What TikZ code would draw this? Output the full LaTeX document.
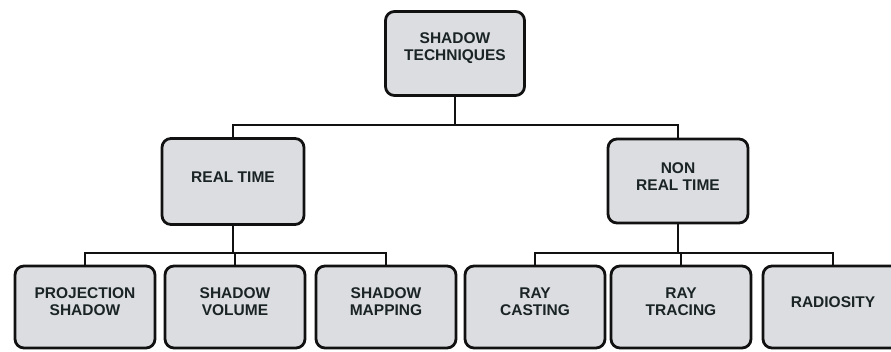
\documentclass[tikz,border=0pt]{standalone}
\usepackage{fontspec}
\setmainfont{Liberation Sans}
\definecolor{boxfill}{HTML}{DCDDE0}
\definecolor{txt}{HTML}{1A2424}
\definecolor{ink}{HTML}{111111}
\begin{document}
\begin{tikzpicture}[x=1pt,y=-1pt,
  box/.style={draw=ink, line width=2.8pt, rounded corners=9pt, fill=boxfill,
    minimum width=140pt, minimum height=82pt, inner sep=0pt},
  lbl/.style={font=\bfseries\fontsize{15.5}{17}\selectfont, text=txt, align=center, inner sep=0pt},
  conn/.style={draw=ink, line width=2.6pt}]
\useasboundingbox (0,0) rectangle (891,351);
\clip (0,0) rectangle (891,351);
% top level
\node[box, minimum height=84pt, minimum width=139pt,
  label={[lbl,yshift=5pt]center:SHADOW\\TECHNIQUES}] (top) at (455,53.5) {};
% second level
\node[box, minimum height=86pt, minimum width=142pt,
  label={[lbl,yshift=4pt]center:REAL TIME}] (rt) at (233,181.5) {};
\node[box, minimum height=84pt, minimum width=140pt,
  label={[lbl,yshift=4pt]center:NON\\REAL TIME}] (nrt) at (678,181) {};
% third level
\node[box, label={[lbl,yshift=5pt]center:PROJECTION\\SHADOW}] (p1) at (85,307) {};
\node[box, label={[lbl,yshift=5pt]center:SHADOW\\VOLUME}] (p2) at (235,307) {};
\node[box, label={[lbl,yshift=5pt]center:SHADOW\\MAPPING}] (p3) at (386,307) {};
\node[box, label={[lbl,yshift=5pt]center:RAY\\CASTING}] (r1) at (535,307) {};
\node[box, label={[lbl,yshift=5pt]center:RAY\\TRACING}] (r2) at (681,307) {};
\node[box, label={[lbl,yshift=5pt]center:RADIOSITY}] (r3) at (833,307) {};
% junction levels
\coordinate (jt) at (455,125);
\coordinate (jb) at (455,253);
% connectors
\draw[conn] (top.south) -- (jt);
\draw[conn] (rt.north) -- (rt.north |- jt) -- (nrt.north |- jt) -- (nrt.north);
\draw[conn] (rt.south) -- (rt.south |- jb);
\draw[conn] (p1.north) -- (p1.north |- jb) -- (p3.north |- jb) -- (p3.north);
\draw[conn] (p2.north) -- (p2.north |- jb);
\draw[conn] (nrt.south) -- (nrt.south |- jb);
\draw[conn] (r1.north) -- (r1.north |- jb) -- (r3.north |- jb) -- (r3.north);
\draw[conn] (r2.north) -- (r2.north |- jb);
\end{tikzpicture}
\end{document}
